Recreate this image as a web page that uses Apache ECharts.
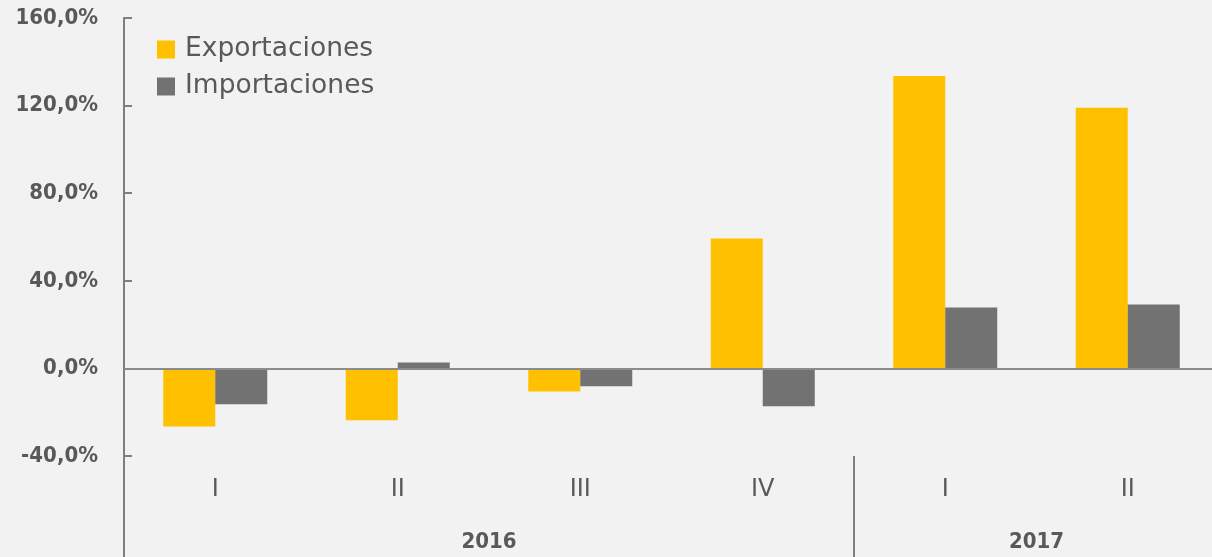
<!DOCTYPE html>
<html>
<head>
<meta charset="utf-8">
<script src="https://cdn.jsdelivr.net/npm/echarts@6/dist/echarts.min.js"></script>
<style>
  html, body { margin: 0; padding: 0; background: #f2f2f2; }
  #chart { width: 1212px; height: 557px; }
</style>
</head>
<body>
<div id="chart"></div>
<script>
const quarters = ['I', 'II', 'III', 'IV', 'I', 'II']
const years = ['2016', '2017']
const quartersPerYear = [4, 2]
const exportaciones = [-26.5, -23.7, -10.5, 59.3, 133.5, 119.0]
const importaciones = [-16.4, 2.7, -8.2, -17.3, 27.8, 29.2]

// year label sits in the middle of its quarters, separator at its end
const yearCenters = []
const yearBounds = [0]
let acc = 0
quartersPerYear.forEach((n, i) => {
  yearCenters.push(acc + n / 2)
  acc += n
  if (i < quartersPerYear.length - 1) yearBounds.push(acc)
})

const textColor = '#595959'
const axisColor = '#7f7f7f'

const chart = echarts.init(document.getElementById('chart'))

chart.setOption({
  backgroundColor: '#f2f2f2',
  animation: false,
  textStyle: { fontFamily: 'DejaVu Sans' },
  grid: { left: 124, top: 18, bottom: 101, width: 1095, outerBoundsMode: 'none' },
  legend: {
    orient: 'vertical',
    left: 157,
    top: 36,
    padding: 0,
    itemWidth: 18,
    itemHeight: 18,
    itemGap: 10,
    icon: 'rect',
    textStyle: { color: textColor, fontSize: 26.5, fontFamily: 'DejaVu Sans', padding: [0, 0, 0, 5] },
    data: ['Exportaciones', 'Importaciones']
  },
  xAxis: [
    {
      type: 'category',
      data: quarters,
      position: 'bottom',
      axisLine: { show: false },
      axisTick: { show: false },
      axisLabel: { color: textColor, fontSize: 24, margin: 22, fontFamily: 'DejaVu Sans' }
    },
    {
      type: 'value',
      min: 0,
      max: quarters.length,
      position: 'bottom',
      axisLine: { show: false },
      splitLine: { show: false },
      axisTick: {
        show: true,
        customValues: yearBounds,
        length: 101,
        lineStyle: { color: axisColor, width: 2 }
      },
      axisLabel: {
        customValues: yearCenters,
        margin: 75,
        color: textColor,
        fontSize: 22,
        fontWeight: 'bold',
        fontFamily: 'DejaVu Sans Condensed',
        formatter: (v) => years[yearCenters.indexOf(v)] || ''
      }
    }
  ],
  yAxis: {
    type: 'value',
    min: -40,
    max: 160,
    interval: 40,
    axisLine: { show: true, lineStyle: { color: axisColor, width: 2 } },
    axisTick: { show: true, inside: true, length: 8, lineStyle: { color: axisColor, width: 2 } },
    splitLine: { show: false },
    axisLabel: {
      color: textColor,
      fontSize: 22,
      fontWeight: 'bold',
      fontFamily: 'DejaVu Sans Condensed',
      margin: 26,
      formatter: (v) => v.toFixed(1).replace('.', ',') + '%'
    }
  },
  series: [
    {
      name: 'Exportaciones',
      type: 'bar',
      data: exportaciones,
      barWidth: 52,
      barGap: '0%',
      itemStyle: { color: '#ffc000' },
      markLine: {
        silent: true,
        symbol: 'none',
        label: { show: false },
        lineStyle: { color: '#8c8c8c', width: 2, type: 'solid' },
        data: [{ yAxis: 0 }]
      }
    },
    {
      name: 'Importaciones',
      type: 'bar',
      data: importaciones,
      barWidth: 52,
      barGap: '0%',
      itemStyle: { color: '#727272' }
    }
  ]
})
</script>
</body>
</html>
